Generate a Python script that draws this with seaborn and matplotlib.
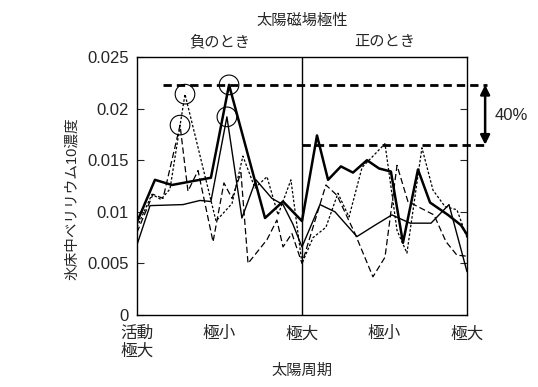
import matplotlib
matplotlib.use("Agg")
import matplotlib.pyplot as plt
import seaborn as sns

# x in solar cycle units: 0 = 活動極大, 0.5 = 極小, 1 = 極大 ...
thick_x = [0, 0.109, 0.212, 0.448, 0.558, 0.776, 0.885, 1.0, 1.091, 1.158, 1.236,
           1.309, 1.394, 1.467, 1.539, 1.612, 1.703, 1.776, 1.885, 1.964, 2.0]
thick_y = [0.0090, 0.0131, 0.0126, 0.0133, 0.0223, 0.0094, 0.0110, 0.0091, 0.0174,
           0.0131, 0.0144, 0.0138, 0.0150, 0.0142, 0.0139, 0.0070, 0.0141, 0.0109,
           0.0097, 0.0087, 0.0078]

thin_x = [0, 0.079, 0.279, 0.382, 0.448, 0.545, 0.636, 0.721, 0.818, 0.885, 0.945,
          1.0, 1.109, 1.2, 1.333, 1.442, 1.545, 1.655, 1.782, 1.891, 2.0]
thin_y = [0.0068, 0.0106, 0.0107, 0.0111, 0.0110, 0.0192, 0.0094, 0.0131, 0.0113,
          0.0107, 0.0088, 0.0066, 0.0107, 0.0100, 0.0076, 0.0087, 0.0097, 0.0089,
          0.0089, 0.0107, 0.0042]

dash_x = [0, 0.097, 0.158, 0.261, 0.309, 0.370, 0.461, 0.527, 0.576, 0.630, 0.673,
          0.788, 0.848, 0.885, 0.939, 1.0, 1.145, 1.212, 1.321, 1.430, 1.503, 1.576,
          1.642, 1.800, 1.873, 1.939, 2.0]
dash_y = [0.0080, 0.0117, 0.0113, 0.0184, 0.0120, 0.0140, 0.0071, 0.0128, 0.0113,
          0.0138, 0.0050, 0.0073, 0.0092, 0.0066, 0.0079, 0.0050, 0.0126, 0.0116,
          0.0079, 0.0037, 0.0056, 0.0145, 0.0110, 0.0097, 0.0071, 0.0058, 0.0057]

dot_x = [0, 0.091, 0.145, 0.200, 0.291, 0.479, 0.576, 0.642, 0.715, 0.788, 0.855,
         0.933, 1.0, 1.067, 1.145, 1.218, 1.285, 1.364, 1.503, 1.576, 1.636, 1.727,
         1.794, 1.867, 1.939, 2.0]
dot_y = [0.0085, 0.0117, 0.0112, 0.0122, 0.0214, 0.0091, 0.0108, 0.0154, 0.0123,
         0.0134, 0.0097, 0.0131, 0.0050, 0.0075, 0.0085, 0.0118, 0.0095, 0.0143,
         0.0166, 0.0082, 0.0060, 0.0162, 0.0121, 0.0105, 0.0102, 0.0075]

# circled peaks
peak_x = [0.291, 0.261, 0.558, 0.545]
peak_y = [0.0214, 0.0184, 0.0223, 0.0192]

upper_ref = 0.0223
lower_ref = 0.0165

xtick_pos = [0, 0.5, 1, 1.5, 2]
xtick_labels = ["活動\n極大", "極小", "極大", "極小", "極大"]
ytick_pos = [0, 0.005, 0.01, 0.015, 0.02, 0.025]
ytick_labels = ["0", "0.005", "0.01", "0.015", "0.02", "0.025"]

sns.set_style("ticks")
plt.rcParams['font.family'] = ['Liberation Sans', 'Noto Sans CJK JP', 'DejaVu Sans']

fig = plt.figure(figsize=(5.38, 3.87), dpi=100)
ax = fig.add_axes([0.2546, 0.186, 0.6134, 0.6667])

sns.lineplot(x=thick_x, y=thick_y, sort=False, estimator=None, color='black', lw=1.8, ax=ax)
sns.lineplot(x=thin_x, y=thin_y, sort=False, estimator=None, color='black', lw=1.0, ax=ax)
sns.lineplot(x=dash_x, y=dash_y, sort=False, estimator=None, color='black', lw=0.9, ax=ax)
ax.lines[-1].set_dashes([5, 2.5])
sns.lineplot(x=dot_x, y=dot_y, sort=False, estimator=None, color='black', lw=0.9, ax=ax)
ax.lines[-1].set_dashes([2, 1.5])

sns.scatterplot(x=peak_x, y=peak_y, s=200, facecolor='none', edgecolor='black',
                linewidth=0.8, ax=ax, zorder=5)

# divider between polarities
ax.axvline(1, color='black', lw=1.0)

# reference lines and arrow
ax.plot([0.158, 2.12], [upper_ref, upper_ref], color='black', lw=2, dashes=[3, 1.8],
        clip_on=False)
ax.plot([1.0, 2.12], [lower_ref, lower_ref], color='black', lw=2, dashes=[3, 1.8],
        clip_on=False)
ax.annotate('', xy=(2.11, lower_ref), xytext=(2.11, upper_ref),
            arrowprops=dict(arrowstyle='<|-|>', color='black', lw=1.8,
                            mutation_scale=14, shrinkA=0, shrinkB=0),
            annotation_clip=False)
ax.text(2.27, 0.0193, "40%", fontsize=12, ha='center', va='center')

ax.set_xlim(0, 2)
ax.set_ylim(0, 0.025)
ax.set_xticks(xtick_pos)
ax.set_xticklabels(xtick_labels, fontsize=12, linespacing=1.2)
ax.set_yticks(ytick_pos)
ax.set_yticklabels(ytick_labels, fontsize=12)
ax.tick_params(axis='x', length=0, pad=8)
ax.tick_params(axis='y', direction='in', length=5, right=True, pad=6)
for sp in ax.spines.values():
    sp.set_visible(True)
    sp.set_color('black')
    sp.set_linewidth(1.0)

ax.set_ylabel("氷床中ベリリウム10濃度", fontsize=10.5)
ax.yaxis.set_label_coords(-0.175, 0.45)
ax.set_xlabel("太陽周期", fontsize=11)
ax.xaxis.set_label_coords(0.5, -0.19)

ax.text(0.5, 1.14, "太陽磁場極性", transform=ax.transAxes, fontsize=11, ha='center', va='center')
ax.text(0.25, 1.06, "負のとき", transform=ax.transAxes, fontsize=11, ha='center', va='center')
ax.text(0.75, 1.06, "正のとき", transform=ax.transAxes, fontsize=11, ha='center', va='center')

fig.savefig("out.png", dpi=100)
